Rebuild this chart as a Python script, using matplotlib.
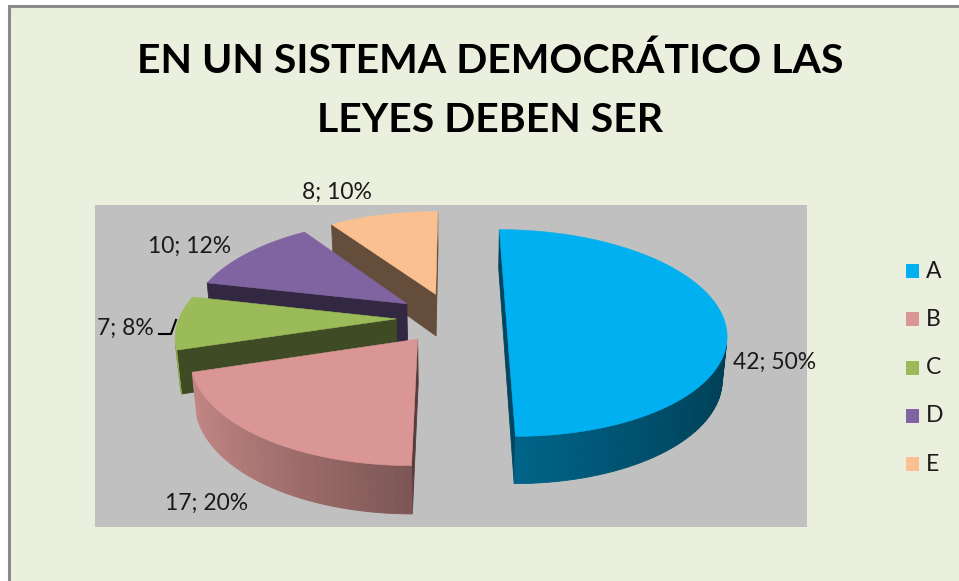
import numpy as np
import matplotlib
matplotlib.use("Agg")
import matplotlib.pyplot as plt
from matplotlib.patches import Polygon, Rectangle
from matplotlib.colors import to_rgb

# ---------------- data ----------------
title_lines = ["EN UN SISTEMA DEMOCRÁTICO LAS", "LEYES DEBEN SER"]
categories = ["A", "B", "C", "D", "E"]
values = [42, 17, 7, 10, 8]
colors = ["#00B0F0", "#D99694", "#9BBB59", "#8064A2", "#FAC090"]

total = sum(values)
pcts = [round(v / total * 100) for v in values]
labels = [f"{v}; {p}%" for v, p in zip(values, pcts)]

# ---------------- figure ----------------
W, H = 959, 581
fig = plt.figure(figsize=(W / 100, H / 100), dpi=100)
fig.patch.set_facecolor("white")
ax = fig.add_axes([0, 0, 1, 1])
ax.set_xlim(0, W)
ax.set_ylim(H, 0)
ax.axis("off")

BG = "#EBEFDE"
ax.add_patch(Rectangle((9, 6), 1000, 700, facecolor=BG, edgecolor="#8A8A8A", lw=2.2, zorder=0))
ax.add_patch(Rectangle((95, 205), 712, 322, facecolor="#C0C0C0", edgecolor="none", zorder=1))

FONT = ["Lato", "DejaVu Sans"]
for yb, line in zip([73, 132], title_lines):
    ax.text(490, yb, line, ha="center", va="baseline", fontsize=29.5, fontweight="bold",
            family=FONT, color="black", zorder=5)

# ---------------- 3D pie geometry ----------------
S = 217.2            # pixel scale for unit radius
phi = np.radians(27.76)
sphi, cphi = np.sin(phi), np.cos(phi)
Dcam = 6.065
Xc = 0.005
cx0, cy0 = 451.3, 317.9
hgt = 0.225
explode = 0.253
x0 = cx0 + S * Xc
cam = np.array([Xc, Dcam * sphi, Dcam * cphi])  # (X, Y, Z)


def proj(X, Y, Z):
    X = np.asarray(X, float); Y = np.asarray(Y, float); Z = np.asarray(Z, float)
    dist = Dcam - Z * cphi - Y * sphi
    f = Dcam / dist
    sx = x0 + S * (X - Xc) * f
    sy = cy0 - S * (Y * cphi - Z * sphi) * f
    return np.column_stack([sx, sy]) if sx.ndim else np.array([sx, sy])


def visible(n, p):
    return np.dot(n, cam - np.asarray(p)) > 0


def shade(c, f):
    r, g, b = to_rgb(c)
    return (min(r * f, 1), min(g * f, 1), min(b * f, 1))


angles = np.cumsum([0] + [v / total * 2 * np.pi for v in values])
slices = []
for i in range(len(values)):
    t1, t2 = angles[i], angles[i + 1]
    b = 0.5 * (t1 + t2)
    ox, oz = explode * np.sin(b), -explode * np.cos(b)
    slices.append((oz, i, t1, t2, ox))

slices.sort()
z = 10
for oz, i, t1, t2, ox in slices:
    col = colors[i]
    n = max(8, int((t2 - t1) / np.radians(2)))
    th = np.linspace(t1, t2, n + 1)
    rx = ox + np.sin(th)
    rz = oz - np.cos(th)
    faces = []
    # radial faces
    for t, sgn in ((t1, -1), (t2, 1)):
        nrm = np.array([sgn * np.cos(t), 0, sgn * np.sin(t)])
        px, pz = ox + np.sin(t), oz - np.cos(t)
        pts3 = [(ox, 0, oz), (px, 0, pz), (px, -hgt, pz), (ox, -hgt, oz)]
        mid = np.mean(pts3, axis=0)
        if visible(nrm, mid):
            faces.append((proj(*np.array(pts3).T), shade(col, 0.40)))
    # outer curved face
    for k in range(n):
        tm = 0.5 * (th[k] + th[k + 1])
        nrm = np.array([np.sin(tm), 0, -np.cos(tm)])
        pts3 = np.array([(rx[k], 0, rz[k]), (rx[k + 1], 0, rz[k + 1]),
                         (rx[k + 1], -hgt, rz[k + 1]), (rx[k], -hgt, rz[k])])
        if visible(nrm, pts3.mean(axis=0)):
            nx = np.sin(tm)
            f = 0.57 - 0.34 * nx if nx < 0 else 0.57 - 0.22 * nx
            faces.append((proj(*pts3.T), shade(col, f)))
    for pts, fc in faces:
        ax.add_patch(Polygon(pts, closed=True, facecolor=fc, edgecolor=fc, lw=0.6, zorder=z))
    z += 1
    top = np.vstack([proj(ox, 0, oz), proj(rx, np.zeros_like(rx), rz)])
    ax.add_patch(Polygon(top, closed=True, facecolor=col, edgecolor=col, lw=0.4, zorder=z))
    z += 1

# ---------------- data labels ----------------
lab_pos = [(733, 362, "left"), (207, 503, "center"), (154, 328, "right"),
           (190, 246, "center"), (337, 192, "center")]
for (x, y, ha), t in zip(lab_pos, labels):
    ax.text(x, y, t, ha=ha, va="center", fontsize=16.5, family=FONT, color="#1A1A1A", zorder=50)
ax.plot([159, 171, 176], [334, 334, 320], color="black", lw=1.5, zorder=50)

# ---------------- legend ----------------
for k, (c, name) in enumerate(zip(colors, categories)):
    yy = 271 + 48.3 * k
    ax.add_patch(Rectangle((906, yy - 7), 13, 14, facecolor=c, edgecolor="none", zorder=50))
    ax.text(926, yy, name, ha="left", va="center", fontsize=16.5, family=FONT, color="#1A1A1A", zorder=50)

fig.savefig("out.png", dpi=100, facecolor=fig.get_facecolor())
